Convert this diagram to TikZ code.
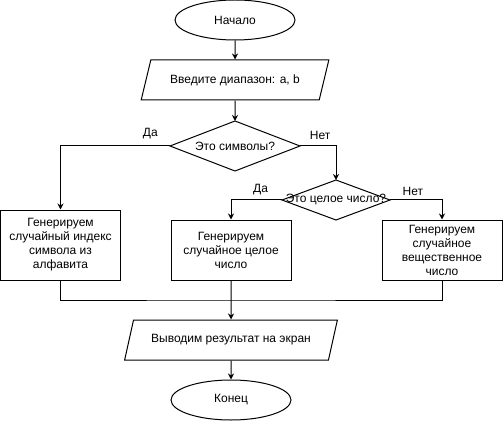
\documentclass[tikz,border=0pt]{standalone}
\usepackage{fontspec}
\setmainfont{Liberation Sans}
\usetikzlibrary{shapes.geometric,arrows.meta}

\begin{document}
\begin{tikzpicture}[x=1pt, y=-1pt, line width=1pt, font=\fontsize{12}{14}\selectfont,
        term/.style={draw, ellipse, minimum width=120pt, minimum height=40pt, inner sep=0pt},
        io/.style={draw, trapezium, trapezium left angle=67, trapezium right angle=113,
                   trapezium stretches=true, minimum height=40pt, inner xsep=1pt},
        choice/.style={draw, diamond, inner sep=0pt, outer sep=0pt},
        proc/.style={draw, rectangle, minimum width=120pt, align=center, inner sep=0pt},
        flow/.style={-{Stealth[length=6pt, width=6pt]}}]
            \useasboundingbox (0.00, 0.00) rectangle (503.00, 422.00);
            \node[term]                                           (start) at (235.00,  20.00) {Начало};
            \node[io, minimum width=188pt]                        (in)    at (235.00,  80.00) {Введите диапазон: a, b};
            \node[choice, minimum width=130pt, minimum height=50pt,
                  label=center:{Это символы?}]                    (q1)    at (235.00, 146.00) {};
            \node[choice, minimum width=108pt, minimum height=40pt,
                  label=center:{Это целое число?}]                (q2)    at (336.00, 200.00) {};
            \node[proc, minimum height=70pt]                      (sym)   at ( 60.50, 245.00) {Генерируем\\случайный индекс\\символа из\\алфавита};
            \node[proc, minimum height=60pt]                      (int)   at (231.00, 250.00) {Генерируем\\случайное целое\\число};
            \node[proc, minimum height=60pt]                      (real)  at (442.00, 250.00) {Генерируем\\случайное\\вещественное\\число};
            \coordinate                                           (join)  at (231.00, 300.00);
            \node[io, minimum width=213pt]                        (out)   at (231.00, 340.00) {Выводим результат на экран};
            \node[term]                                           (stop)  at (231.00, 400.00) {Конец};
            % connectors
            \draw[flow] (start.south) -- (in.north);
            \draw[flow] (in.south) -- (q1.north);
            \draw[flow] (q1.west) -| (sym.north)  node[pos=0.09, above=3pt] {Да};
            \draw[flow] (q1.east) -| (q2.north)   node[pos=0.28, above=3pt] {Нет};
            \draw[flow] (q2.west) -| (int.north)  node[pos=0.21, above=1pt] {Да};
            \draw[flow] (q2.east) -| (real.north) node[pos=0.22, above=1pt] {Нет};
            \draw (sym.south) |- (join) -| (real.south);
            \draw[flow] (int.south) -- (join) -- (out.north);
            \draw[flow] (out.south) -- (stop.north);
        \end{tikzpicture}
\end{document}
